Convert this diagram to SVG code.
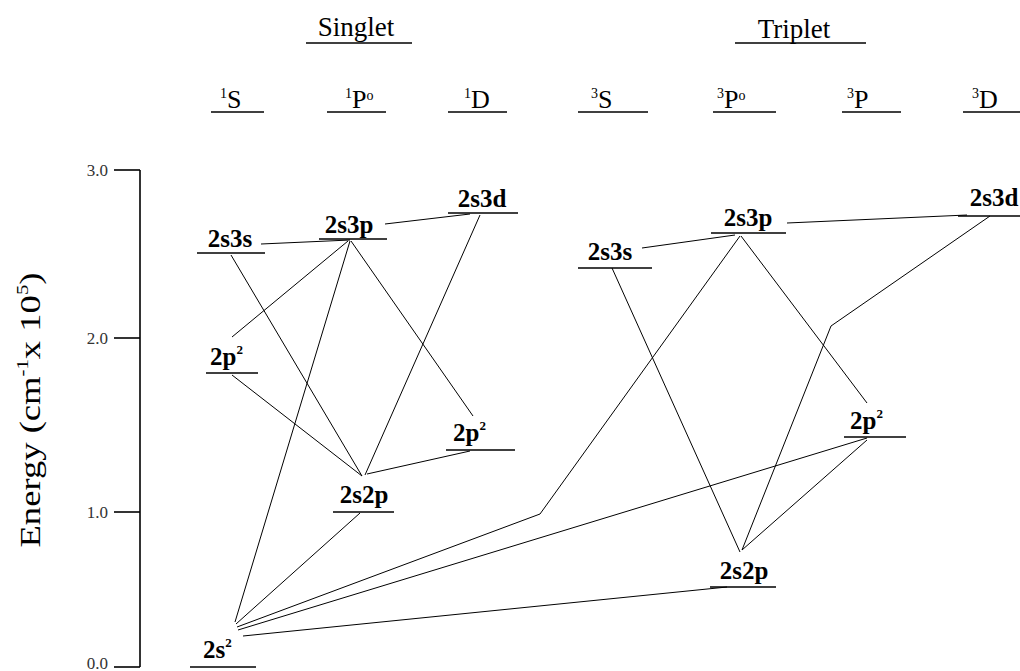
<svg xmlns="http://www.w3.org/2000/svg" width="1020" height="671" viewBox="0 0 1020 671">
<style>
.lvl{stroke:#000;stroke-width:1.6}
.t{font-family:"Liberation Serif","Times New Roman",serif;fill:#000}
.lab{font-size:25px;font-weight:bold}
.term{font-size:26px}
.title{font-size:27px}
.tick{font-family:"Liberation Serif",serif;font-size:17px;fill:#333;text-anchor:end}
.c line,.c polyline{stroke:#000;stroke-width:1;fill:none}
</style>
<rect width="1020" height="671" fill="#fff"/>
<g id="axis">
<line x1="140" y1="170" x2="140" y2="667" class="lvl" stroke-width="1.4"/>
<line x1="114" y1="170" x2="140" y2="170" class="lvl" stroke-width="1.4"/>
<line x1="114" y1="338" x2="140" y2="338" class="lvl" stroke-width="1.4"/>
<line x1="114" y1="512" x2="140" y2="512" class="lvl" stroke-width="1.4"/>
<line x1="114" y1="667" x2="140" y2="667" class="lvl" stroke-width="1.4"/>
<text class="tick" x="108" y="176">3.0</text>
<text class="tick" x="108" y="344">2.0</text>
<text class="tick" x="108" y="518">1.0</text>
<text class="tick" x="108" y="669">0.0</text>
<text class="t" font-size="30" text-anchor="middle" transform="translate(40,410) rotate(-90)" textLength="275" lengthAdjust="spacingAndGlyphs">Energy (cm<tspan font-size="17" dy="-12">-1</tspan><tspan dy="12">x 10</tspan><tspan font-size="17" dy="-12">5</tspan><tspan dy="12">)</tspan></text>
</g>
<g id="headers">
<text class="t title" x="356" y="36" text-anchor="middle">Singlet</text>
<line x1="306" y1="43" x2="412" y2="43" class="lvl"/>
<text class="t title" x="794" y="38" text-anchor="middle">Triplet</text>
<line x1="735" y1="43" x2="866" y2="43" class="lvl"/>
</g>
<g id="terms">
<text class="t term" x="220" y="108"><tspan font-size="14" dy="-10">1</tspan><tspan dy="10">S</tspan></text>
<line x1="211" y1="112" x2="264" y2="112" class="lvl"/>
<text class="t term" x="345" y="108"><tspan font-size="14" dy="-10">1</tspan><tspan dy="10">P</tspan><tspan font-size="14" dy="-8">o</tspan></text>
<line x1="327" y1="112" x2="386" y2="112" class="lvl"/>
<text class="t term" x="464" y="108"><tspan font-size="14" dy="-10">1</tspan><tspan dy="10">D</tspan></text>
<line x1="448" y1="112" x2="507" y2="112" class="lvl"/>
<text class="t term" x="591" y="108"><tspan font-size="14" dy="-10">3</tspan><tspan dy="10">S</tspan></text>
<line x1="578" y1="112" x2="648" y2="112" class="lvl"/>
<text class="t term" x="717" y="108"><tspan font-size="14" dy="-10">3</tspan><tspan dy="10">P</tspan><tspan font-size="14" dy="-8">o</tspan></text>
<line x1="713" y1="112" x2="776" y2="112" class="lvl"/>
<text class="t term" x="847" y="108"><tspan font-size="14" dy="-10">3</tspan><tspan dy="10">P</tspan></text>
<line x1="842" y1="112" x2="901" y2="112" class="lvl"/>
<text class="t term" x="972" y="108"><tspan font-size="14" dy="-10">3</tspan><tspan dy="10">D</tspan></text>
<line x1="963" y1="112" x2="1020" y2="112" class="lvl"/>
</g>
<g class="c" id="connectors">
<line x1="261" y1="244" x2="350" y2="240"/>
<line x1="385" y1="224" x2="470" y2="214"/>
<line x1="348" y1="241" x2="232" y2="337"/>
<line x1="350" y1="241" x2="235" y2="622"/>
<line x1="351" y1="241" x2="473" y2="416"/>
<line x1="231" y1="255" x2="362" y2="476"/>
<line x1="232" y1="375" x2="362" y2="476"/>
<line x1="480" y1="215" x2="365" y2="475"/>
<line x1="367" y1="474" x2="470" y2="451"/>
<line x1="360" y1="513" x2="236" y2="624"/>
<polyline points="237,627 540,514 740,236"/>
<line x1="238" y1="630" x2="867" y2="438"/>
<line x1="243" y1="636" x2="727" y2="587"/>
<line x1="642" y1="248" x2="735" y2="235"/>
<line x1="787" y1="223" x2="967" y2="215"/>
<line x1="741" y1="236" x2="867" y2="403"/>
<line x1="612" y1="268" x2="740" y2="552"/>
<line x1="742" y1="550" x2="867" y2="440"/>
<polyline points="990,216 831,326 742,550"/>
</g>
<g id="s-2s3s"><text class="t lab" x="230" y="247" text-anchor="middle">2s3s</text><line x1="197" y1="253" x2="265" y2="253" class="lvl"/></g>
<g id="s-2s3p"><text class="t lab" x="349" y="233" text-anchor="middle">2s3p</text><line x1="319" y1="239" x2="387" y2="239" class="lvl"/></g>
<g id="s-2s3d"><text class="t lab" x="482" y="207" text-anchor="middle">2s3d</text><line x1="448" y1="213" x2="518" y2="213" class="lvl"/></g>
<g id="s-2p2-S"><text class="t lab" x="210" y="365">2p<tspan font-size="13" dy="-11">2</tspan></text><line x1="206" y1="373" x2="258" y2="373" class="lvl"/></g>
<g id="s-2p2-D"><text class="t lab" x="453" y="441">2p<tspan font-size="13" dy="-11">2</tspan></text><line x1="446" y1="450" x2="515" y2="450" class="lvl"/></g>
<g id="s-2s2p"><text class="t lab" x="364" y="503" text-anchor="middle">2s2p</text><line x1="333" y1="512" x2="394" y2="512" class="lvl"/></g>
<g id="s-2s2"><text class="t lab" x="203" y="658">2s<tspan font-size="13" dy="-11">2</tspan></text><line x1="190" y1="667" x2="256" y2="667" class="lvl"/></g>
<g id="t-2s3s"><text class="t lab" x="610" y="260" text-anchor="middle">2s3s</text><line x1="578" y1="268" x2="652" y2="268" class="lvl"/></g>
<g id="t-2s3p"><text class="t lab" x="748" y="226" text-anchor="middle">2s3p</text><line x1="711" y1="233" x2="786" y2="233" class="lvl"/></g>
<g id="t-2s3d"><text class="t lab" x="994" y="206" text-anchor="middle">2s3d</text><line x1="958" y1="216" x2="1020" y2="216" class="lvl"/></g>
<g id="t-2p2"><text class="t lab" x="850" y="429">2p<tspan font-size="13" dy="-11">2</tspan></text><line x1="844" y1="437" x2="906" y2="437" class="lvl"/></g>
<g id="t-2s2p"><text class="t lab" x="744" y="579" text-anchor="middle">2s2p</text><line x1="710" y1="587" x2="776" y2="587" class="lvl"/></g>
</svg>
